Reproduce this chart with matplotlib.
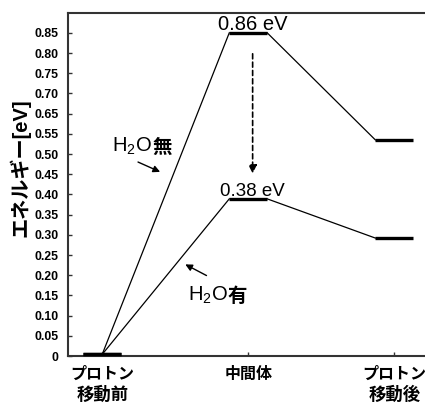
import numpy as np
import matplotlib
matplotlib.use("Agg")
import matplotlib.pyplot as plt

plt.rcParams['font.family'] = ['Liberation Sans', 'Noto Sans CJK JP', 'DejaVu Sans']
plt.rcParams['mathtext.fontset'] = 'custom'
plt.rcParams['mathtext.rm'] = 'Liberation Sans'
plt.rcParams['mathtext.it'] = 'Liberation Sans'

# categories and energy levels (read in the chart's own tick positions)
cat_line1 = ["プロトン", "中間体", "プロトン"]
cat_line2 = ["移動前", "", "移動後"]
without_h2o = [0.004, 0.80, 0.535]
with_h2o = [0.004, 0.389, 0.292]
# y tick labels as printed on the chart (0.60 is skipped in the original)
ytick_labels = ["0", "0.05", "0.10", "0.15", "0.20", "0.25", "0.30", "0.35",
                "0.40", "0.45", "0.50", "0.55", "0.65", "0.70", "0.75", "0.80", "0.85"]

fig = plt.figure(figsize=(4.25, 4.03), dpi=100)
ax = fig.add_axes([0.16, 0.1166, 0.84, 0.851])

half = 0.13
x = np.arange(len(cat_line1))
for levels in (without_h2o, with_h2o):
    # bold level bars
    for xi, yi in zip(x, levels):
        ax.plot([xi - half, xi + half], [yi, yi], color="black", lw=2.4,
                solid_capstyle="butt", clip_on=False, zorder=3)
    # thin connectors
    ax.plot([x[0], x[1] - half], [levels[0], levels[1]], color="black", lw=0.9)
    ax.plot([x[1] + half, x[2] - half], [levels[1], levels[2]], color="black", lw=0.9)

# energy labels
ax.text(1.03, 0.808, "0.86 eV", ha="center", va="baseline", fontsize=14.5)
ax.text(1.03, 0.397, "0.38 eV", ha="center", va="baseline", fontsize=13.5)

# dashed arrow between levels
ax.annotate("", xy=(1.03, 0.445), xytext=(1.03, 0.755),
            arrowprops=dict(arrowstyle="-|>", linestyle=(0, (3, 2)), lw=1.2,
                            color="black", mutation_scale=12))

# H2O labels with arrows
def h2o_label(xpos, ypos, suffix):
    t = ax.text(xpos, ypos, "H$_2$O", fontsize=14.5, ha="left", va="baseline")
    ax.annotate(suffix, xy=(1, 0), xycoords=t, xytext=(0, 0), textcoords="offset points",
                fontsize=14, fontweight="bold", ha="left", va="bottom")

h2o_label(0.07, 0.505, "無")
ax.annotate("", xy=(0.414, 0.453), xytext=(0.228, 0.483),
            arrowprops=dict(arrowstyle="-|>", lw=1.0, color="black", mutation_scale=10))
h2o_label(0.585, 0.138, "有")
ax.annotate("", xy=(0.552, 0.230), xytext=(0.731, 0.196),
            arrowprops=dict(arrowstyle="-|>", lw=1.0, color="black", mutation_scale=10))

ax.set_xlim(-0.234, 2.21)
ax.set_ylim(0, 0.849)
ax.set_xticks(x)
ax.set_xticklabels([])
# two-line category labels, second line a touch larger as in the original
xt = ax.get_xaxis_transform()
for xi, l1, l2 in zip(x, cat_line1, cat_line2):
    ax.text(xi, -0.054, l1, transform=xt, ha="center", va="center",
            fontsize=11.5, fontweight="bold")
    if l2:
        ax.text(xi, -0.112, l2, transform=xt, ha="center", va="center",
                fontsize=12.5, fontweight="bold")

ax.set_yticks(np.arange(len(ytick_labels)) * 0.05)
ax.set_yticklabels(ytick_labels, fontsize=8.8, fontweight="bold")
ax.tick_params(axis="both", direction="in", length=3, width=1, color="#333333")
ax.tick_params(axis="y", pad=7)
ax.set_ylabel("エネルギー[eV]", fontsize=14.5, fontweight="bold")
ax.yaxis.set_label_coords(-0.105, 0.548)

for s in ("left", "bottom", "top"):
    ax.spines[s].set_linewidth(1.5)
    ax.spines[s].set_color("#333333")
ax.spines["right"].set_visible(False)

fig.savefig("out.png", dpi=100)
